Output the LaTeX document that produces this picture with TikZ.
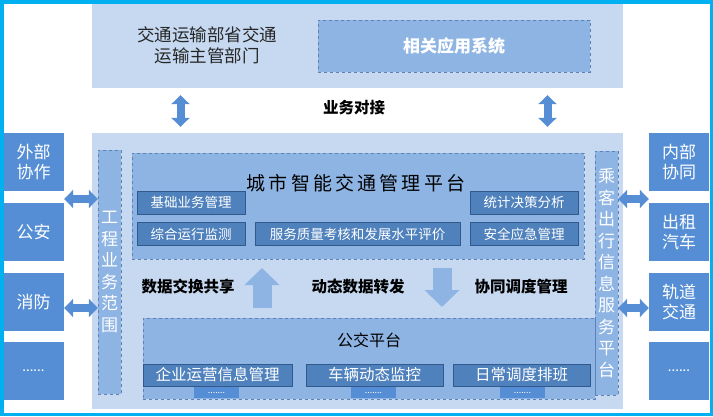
\documentclass[tikz,border=0pt]{standalone}
\usepackage{fontspec}
\usepackage{tikz}
\usetikzlibrary{arrows.meta,positioning,calc}
\newfontfamily\cjk{Noto Sans CJK SC}
\definecolor{PanelLight}{HTML}{C6D9F1}
\definecolor{PanelMid}{HTML}{8EB4E3}
\definecolor{BoxBlue}{HTML}{558ED5}
\definecolor{SubBlue}{HTML}{4F81BD}
\definecolor{SubEdge}{HTML}{31598C}
\definecolor{DashEdge}{HTML}{5F82B4}
\definecolor{FrameCyan}{HTML}{00B0F0}

\begin{document}
\begin{tikzpicture}[x=1pt, y=-1pt,
    panel/.style={fill=PanelLight, inner sep=0pt},
    platnode/.style={fill=PanelMid, draw=DashEdge, dashed, inner sep=0pt},
    sidenode/.style={fill=BoxBlue, text=white, minimum width=61pt, minimum height=58pt, inner sep=0pt, align=center, font=\cjk\fontsize{17}{20}\selectfont},
    stripnode/.style={platnode, minimum width=23pt, minimum height=244pt, text=white, align=center, font=\cjk\fontsize{17}{21.5}\selectfont},
    subnode/.style={fill=SubBlue, draw=SubEdge, thick, text=white, minimum height=23pt, inner sep=0pt, font=\cjk\fontsize{13.5}{15}\selectfont},
    busnode/.style={subnode, minimum height=22pt, font=\cjk\fontsize{15.5}{17}\selectfont},
    dotnode/.style={fill=BoxBlue, text=white, minimum width=45pt, minimum height=11pt, inner sep=0pt, font=\sffamily\footnotesize\bfseries},
    labnode/.style={font=\cjk\bfseries\fontsize{15.5}{17}\selectfont, inner sep=0pt},
    dblarr/.style={draw=BoxBlue, line width=8pt, {Triangle[length=9pt,width=18pt]}-{Triangle[length=9pt,width=18pt]}},
    blockarr/.style={draw=PanelMid, line width=19pt, -{Triangle[length=17pt,width=34pt]}}
  ]
    \useasboundingbox (0,0) rectangle (713,416);

    \node[panel, minimum width=531pt, minimum height=85pt] (toppanel) at (357.5,45.5) {};
    \node[font=\cjk\fontsize{17.5}{21}\selectfont, text=black!85, align=center] (dept) at (207,45) {交通运输部省交通\\运输主管部门};
    \node[platnode, minimum width=272pt, minimum height=52pt, text=white, font=\cjk\bfseries\fontsize{17}{20}\selectfont] (apps) at (454,46) {相关应用系统};

    \node[panel, minimum width=531pt, minimum height=276pt] (mainpanel) at (357.5,271) {};

    \node[sidenode] (wb1) at (33.5,162) {外部\\协作};
    \node[sidenode] (wb2) at (33.5,232) {公安};
    \node[sidenode] (wb3) at (33.5,302) {消防};
    \node[sidenode, font=\sffamily\large\bfseries] (wb4) at (33.5,371) {......};
    \node[sidenode, minimum width=60pt] (rb1) at (679,162) {内部\\协同};
    \node[sidenode, minimum width=60pt] (rb2) at (679,232) {出租\\汽车};
    \node[sidenode, minimum width=60pt] (rb3) at (679,302) {轨道\\交通};
    \node[sidenode, minimum width=60pt, font=\sffamily\large\bfseries] (rb4) at (679,371) {......};

    \node[stripnode] (lstrip) at (109.5,272) {工\\程\\业\\务\\范\\围};
    \node[stripnode] (rstrip) at (606.5,273) {乘\\客\\出\\行\\信\\息\\服\\务\\平\\台};

    \node[platnode, minimum width=452pt, minimum height=106pt] (city) at (358,206) {};
    \node[font=\cjk\fontsize{19}{21}\selectfont, inner sep=0pt] (citytitle) at (356,183) {城\,市\,智\,能\,交\,通\,管\,理\,平\,台};
    \node[subnode, minimum width=108pt] (s1) at (191,202.5) {基础业务管理};
    \node[subnode, minimum width=108pt] (s2) at (191,234) {综合运行监测};
    \node[subnode, minimum width=205pt] (s3) at (357.5,234) {服务质量考核和发展水平评价};
    \node[subnode, minimum width=108pt] (s4) at (524,202.5) {统计决策分析};
    \node[subnode, minimum width=108pt] (s5) at (524,234) {安全应急管理};

    \node[labnode] (share) at (188,287) {数据交换共享};
    \node[labnode] (relay) at (358,287) {动态数据转发};
    \node[labnode] (dispatch) at (521,287) {协同调度管理};
    \node[labnode] (dock) at (354,108) {业务对接};

    \node[platnode, minimum width=452pt, minimum height=81pt] (bus) at (369,358.5) {};
    \node[font=\cjk\fontsize{16}{18}\selectfont, inner sep=0pt] (bustitle) at (369,340) {公交平台};
    \node[busnode, minimum width=149pt] (b1) at (217.5,375) {企业运营信息管理};
    \node[busnode, minimum width=137pt] (b2) at (374.5,375) {车辆动态监控};
    \node[busnode, minimum width=137pt] (b3) at (521.5,375) {日常调度排班};
    \node[dotnode] (d1) at (216.5,392.5) {.......};
    \node[dotnode] (d2) at (373.5,392.5) {.......};
    \node[dotnode] (d3) at (522.5,392.5) {.......};

    \coordinate (upbot) at (262,308);
    \coordinate (uptop) at (262,268);
    \coordinate (dntop) at (442,268);
    \coordinate (dnbot) at (442,307);
    \draw[blockarr] (upbot) -- (uptop);
    \draw[blockarr] (dntop) -- (dnbot);

    \draw[dblarr] ([xshift=-177pt,yshift=-7pt]toppanel.south) -- ([xshift=-177pt,yshift=6pt]mainpanel.north);
    \draw[dblarr] ([xshift=190pt,yshift=-7pt]toppanel.south) -- ([xshift=190pt,yshift=6pt]mainpanel.north);
    \draw[dblarr] ([yshift=-37pt]wb1.east) -- ([yshift=-37pt]wb1.east -| lstrip.west);
    \draw[dblarr] ([yshift=-6pt]wb3.east) -- ([yshift=-6pt]wb3.east -| lstrip.west);
    \draw[dblarr] ([yshift=-37pt]rb1.west) -- ([yshift=-37pt]rb1.west -| rstrip.east);
    \draw[dblarr] ([yshift=-6pt]rb3.west) -- ([yshift=-6pt]rb3.west -| rstrip.east);

    \draw[FrameCyan, line width=3.5pt] (1.75,1.75) rectangle (711.25,414.25);
  \end{tikzpicture}
\end{document}
